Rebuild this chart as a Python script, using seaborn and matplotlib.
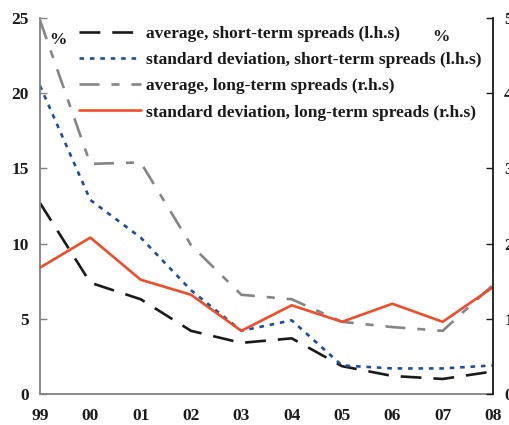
import matplotlib
matplotlib.use("Agg")
import matplotlib.pyplot as plt
import seaborn as sns
import pandas as pd

years = ["99", "00", "01", "02", "03", "04", "05", "06", "07", "08"]
avg_short = [12.7, 7.4, 6.3, 4.2, 3.4, 3.7, 1.85, 1.2, 1.0, 1.5]
std_short = [20.5, 12.9, 10.4, 6.9, 4.2, 4.9, 1.9, 1.7, 1.7, 1.9]
avg_long = [4.97, 3.06, 3.08, 1.98, 1.32, 1.26, 0.96, 0.89, 0.84, 1.45]
std_long = [1.68, 2.08, 1.52, 1.32, 0.84, 1.18, 0.96, 1.20, 0.96, 1.42]

labels = [
    "average, short-term spreads (l.h.s)",
    "standard deviation, short-term spreads (l.h.s)",
    "average, long-term spreads (r.h.s)",
    "standard deviation, long-term spreads (r.h.s)",
]

sns.set_theme(style="white")
plt.rcParams["font.family"] = ["Liberation Serif", "DejaVu Serif"]
plt.rcParams["font.weight"] = "bold"
plt.rcParams["lines.scale_dashes"] = False

df = pd.DataFrame({"x": range(len(years)), "avg_short": avg_short,
                   "std_short": std_short, "avg_long": avg_long,
                   "std_long": std_long})

fig = plt.figure(figsize=(5.1, 4.25), dpi=100)
ax = fig.add_axes([40 / 510, 31 / 425, 453 / 510, 376 / 425])
ax2 = ax.twinx()

lw = 1.9
sns.lineplot(data=df, x="x", y="avg_short", ax=ax, color="#1a1a1a", lw=lw,
             label=labels[0])
sns.lineplot(data=df, x="x", y="std_short", ax=ax, color="#1d4e9e", lw=lw,
             label=labels[1])
sns.lineplot(data=df, x="x", y="avg_long", ax=ax2, color="#858585", lw=lw,
             label=labels[2])
sns.lineplot(data=df, x="x", y="std_long", ax=ax2, color="#f04e2a", lw=lw,
             label=labels[3])

ax.lines[0].set_dashes((15, 8.6))
ax.lines[1].set_dashes((3.3, 4.2))
ax2.lines[0].set_dashes((14.4, 8.6, 5.8, 8.6))

ax.set_xlim(0, len(years) - 1)
ax.set_ylim(0, 25)
ax2.set_ylim(0, 5)
ax.set_xticks(range(len(years)))
ax.set_xticklabels(years)
ax.set_yticks([0, 5, 10, 15, 20, 25])
ax2.set_yticks([0, 1, 2, 3, 4, 5])
ax.set_xlabel("")
ax.set_ylabel("")
ax2.set_ylabel("")

for a in (ax, ax2):
    a.spines["top"].set_visible(False)
    a.grid(False)
ax.spines["left"].set_color("#808080")
ax.spines["bottom"].set_color("#808080")
ax.spines["right"].set_visible(False)
ax2.spines["left"].set_visible(False)
ax2.spines["bottom"].set_visible(False)
ax2.spines["right"].set_color("#1a1a1a")
for a in (ax, ax2):
    for s in a.spines.values():
        s.set_linewidth(1.3)

ax.tick_params(axis="both", direction="in", length=5, width=1,
               color="#808080", labelsize=12.5)
ax.tick_params(axis="x", pad=10)
ax.tick_params(axis="y", pad=8)
ax2.tick_params(axis="y", direction="in", length=5, width=1,
                color="#1a1a1a", labelsize=12.5, pad=8)
for t in ax.get_xticklabels() + ax.get_yticklabels() + ax2.get_yticklabels():
    t.set_fontweight("bold")
    t.set_color("#1a1a1a")

h1, l1 = ax.get_legend_handles_labels()
h2, l2 = ax2.get_legend_handles_labels()
if ax2.get_legend():
    ax2.get_legend().remove()
ax.legend(h1 + h2, l1 + l2, loc="upper left",
          bbox_to_anchor=(0.07, 0.998), frameon=False,
          prop={"family": "Liberation Serif", "weight": "bold", "size": 12.5},
          handlelength=3.6, handletextpad=0.3, labelspacing=0.58,
          borderaxespad=0.0, labelcolor="#1a1a1a")

ax.text(0.04, 0.962, "%", transform=ax.transAxes, fontsize=12.5,
        fontweight="bold", va="top", ha="center", color="#1a1a1a")
ax.text(0.885, 0.972, "%", transform=ax.transAxes, fontsize=12.5,
        fontweight="bold", va="top", ha="center", color="#1a1a1a")

fig.savefig("out.png", dpi=100)
